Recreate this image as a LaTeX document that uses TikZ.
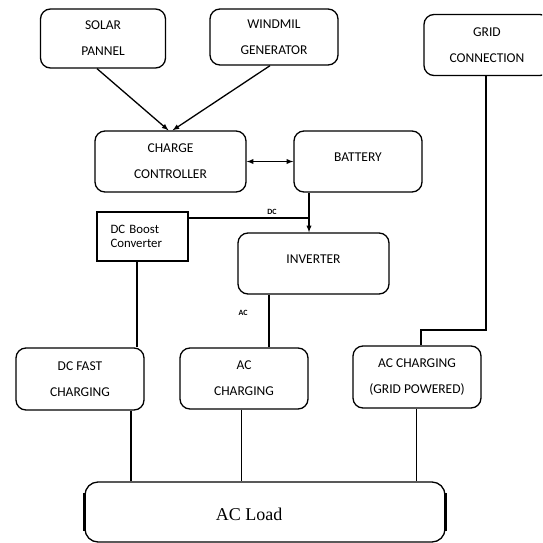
\documentclass[tikz,border=0pt]{standalone}
\usepackage{fontspec}
\setmainfont{Carlito}
\newfontfamily\loadfont{Liberation Serif}
\usetikzlibrary{calc, arrows}
\tikzset{>=latex}
\tikzset{
  blk/.style = {draw, rounded corners = 10pt, line width = 1.3pt, align = center, inner sep = 0pt, font = \fontsize{13.5}{26}\selectfont},
  wire/.style = {line width = 1.3pt},
  tag/.style = {inner sep = 0pt, font = \fontsize{8}{8}\selectfont\bfseries}
}

\begin{document}
\begin{tikzpicture}[x = 1pt, y = -1pt]
\clip (0, 0) rectangle (542, 543);

% sources
\node[blk, minimum width = 125pt, minimum height = 59pt] (solar) at (103, 38.5) {SOLAR\\PANNEL};
\node[blk, minimum width = 128pt, minimum height = 56pt] (wind) at (274, 37) {WINDMIL\\GENERATOR};
\node[blk, minimum width = 126pt, minimum height = 61pt] (grid) at (487, 45) {GRID\\CONNECTION};

% storage and conversion
\node[blk, minimum width = 151pt, minimum height = 61pt] (charge) at (170.5, 161.5) {CHARGE\\CONTROLLER};
\node[blk, minimum width = 128pt, minimum height = 61pt, text depth = 9pt] (battery) at (358, 161.5) {BATTERY};
\node[draw, line width = 2pt, minimum width = 91pt, minimum height = 49pt, text width = 64pt, align = left, inner sep = 0pt, font = \fontsize{12.8}{14}\selectfont] (dcboost) at (142.5, 236.5) {DC Boost\\Converter};
\node[blk, minimum width = 151pt, minimum height = 61pt, text depth = 9pt] (inverter) at (313.5, 263.5) {INVERTER};

% chargers
\node[blk, minimum width = 128pt, minimum height = 62pt] (dcfast) at (80, 379) {DC FAST\\CHARGING};
\node[blk, minimum width = 128pt, minimum height = 61pt] (accharge) at (244, 378.5) {AC\\CHARGING};
\node[blk, minimum width = 128pt, minimum height = 62pt] (acgrid) at (417, 377) {AC CHARGING\\(GRID POWERED)};

% load
\node[draw, rounded corners = 13pt, line width = 1.3pt, minimum width = 360pt, minimum height = 60pt] (acload) at (265, 512) {};
\draw[line width = 2.8pt] ($(acload.north west)+(0, 12)$) -- ($(acload.south west)+(0, -12)$);
\draw[line width = 2.8pt] ($(acload.north east)+(0, 12)$) -- ($(acload.south east)+(0, -12)$);
\node[inner sep = 0pt, font = \loadfont\fontsize{18}{18}\selectfont] (loadtxt) at (249, 514) {AC Load};

% connectors
\draw[wire, ->] ($(solar.south)+(-6, 0)$) -- ($(charge.north)+(-2, 0)$);
\draw[wire, ->] ($(wind.south)+(-4, 0)$) -- ($(charge.north)+(2, 0)$);
\draw[wire, <->] (charge.east) -- (battery.west);

\coordinate (dcjn) at (309, 218);
\draw[wire, ->] (battery.south -| dcjn) -- (dcjn |- inverter.north);
\draw[wire] (dcboost.east |- dcjn) -- (dcjn);
\node[tag] (dctag) at (272, 212) {DC};

\coordinate (boostout) at (137, 0);
\draw[line width = 2pt] (dcboost.south -| boostout) -- (dcfast.north -| boostout);
\coordinate (invout) at (269, 0);
\draw[line width = 2pt] (inverter.south -| invout) -- (accharge.north -| invout);
\node[tag] (actag) at (243, 313) {AC};

\coordinate (gridbend) at (486, 330);
\coordinate (gridin) at (421, 0);
\draw[wire] (grid.south -| gridbend) -- (gridbend) -| (acgrid.north -| gridin);

\coordinate (fastout) at (131, 0);
\coordinate (acout) at (241, 0);
\coordinate (gridout) at (416.5, 0);
\draw[line width = 1.8pt] (dcfast.south -| fastout) -- (acload.north -| fastout);
\draw[line width = 1pt] (accharge.south -| acout) -- (acload.north -| acout);
\draw[line width = 1.5pt] (acgrid.south -| gridout) -- (acload.north -| gridout);
\end{tikzpicture}
\end{document}
